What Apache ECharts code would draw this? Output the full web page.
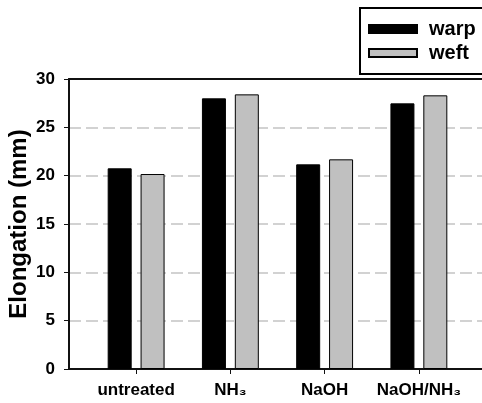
<!DOCTYPE html>
<html>
<head>
<meta charset="utf-8">
<script src="https://cdn.jsdelivr.net/npm/echarts@6/dist/echarts.min.js"></script>
<style>html,body{margin:0;padding:0;background:#fff}#c{width:482px;height:403px}</style>
</head>
<body>
<div id="c"></div>
<script>
var categories = ['untreated', 'NH\u2083', 'NaOH', 'NaOH/NH\u2083'];
var warp = [20.76, 28.0, 21.17, 27.48];
var weft = [20.17, 28.41, 21.69, 28.31];
var yTicks = [0, 5, 10, 15, 20, 25, 30];
var yTitle = 'Elongation (mm)';

var FONT = "'Liberation Sans', Arial, sans-serif";
var chart = echarts.init(document.getElementById('c'));
chart.setOption({
  animation: false,
  backgroundColor: '#fff',
  grid: [
    {left: 69, right: 0, top: 79, bottom: 34, containLabel: false, outerBoundsMode: 'none'},
    {left: 89, right: 16, top: 79, bottom: 34, containLabel: false, outerBoundsMode: 'none'}
  ],
  legend: {
    left: 360, top: 8,
    orient: 'vertical',
    padding: [10, 34, 10, 8],
    itemGap: 2,
    itemWidth: 48, itemHeight: 8,
    borderColor: '#000', borderWidth: 2,
    icon: 'rect',
    textStyle: {fontFamily: FONT, fontWeight: 'bold', fontSize: 20, lineHeight: 22, color: '#000', padding: [0, 0, 0, 7]},
    data: ['warp', 'weft']
  },
  xAxis: [
    {gridIndex: 0, type: 'value', min: 0, max: 1, position: 'bottom',
     axisLine: {show: true, onZero: false, lineStyle: {color: '#111', width: 2}},
     axisTick: {show: false}, axisLabel: {show: false}, splitLine: {show: false}},
    {gridIndex: 1, type: 'category', data: categories, position: 'bottom',
     axisLine: {show: false},
     axisTick: {show: true, alignWithLabel: true, length: 5, lineStyle: {color: '#111', width: 1}},
     axisLabel: {margin: 13, fontFamily: FONT, fontWeight: 'bold', fontSize: 17, color: '#000', interval: 0}},
    {gridIndex: 0, type: 'value', min: 0, max: 1, position: 'top',
     axisLine: {show: true, onZero: false, lineStyle: {color: '#111', width: 2}},
     axisTick: {show: false}, axisLabel: {show: false}, splitLine: {show: false}}
  ],
  yAxis: [
    {gridIndex: 0, type: 'value', min: yTicks[0], max: yTicks[yTicks.length - 1], interval: yTicks[1] - yTicks[0],
     name: yTitle, nameLocation: 'middle', nameGap: 38, nameMoveOverlap: false,
     nameTextStyle: {fontFamily: FONT, fontWeight: 'bold', fontSize: 24, color: '#000'},
     axisLine: {show: true, lineStyle: {color: '#111', width: 2}},
     axisTick: {show: true, length: 5, lineStyle: {color: '#111', width: 1}},
     axisLabel: {margin: 14, fontFamily: FONT, fontWeight: 'bold', fontSize: 17, color: '#000'},
     splitLine: {show: true, lineStyle: {color: '#c4c4c4', width: 1.5, type: [12, 5]}}},
    {gridIndex: 1, type: 'value', min: yTicks[0], max: yTicks[yTicks.length - 1], show: false}
  ],
  series: [
    {name: 'warp', type: 'bar', xAxisIndex: 1, yAxisIndex: 1, data: warp,
     barWidth: 24, barGap: '37%',
     itemStyle: {color: '#000', borderColor: '#000', borderWidth: 1}},
    {name: 'weft', type: 'bar', xAxisIndex: 1, yAxisIndex: 1, data: weft,
     barWidth: 24, barGap: '37%',
     itemStyle: {color: '#c0c0c0', borderColor: '#000', borderWidth: 1}}
  ]
});
</script>
</body>
</html>
